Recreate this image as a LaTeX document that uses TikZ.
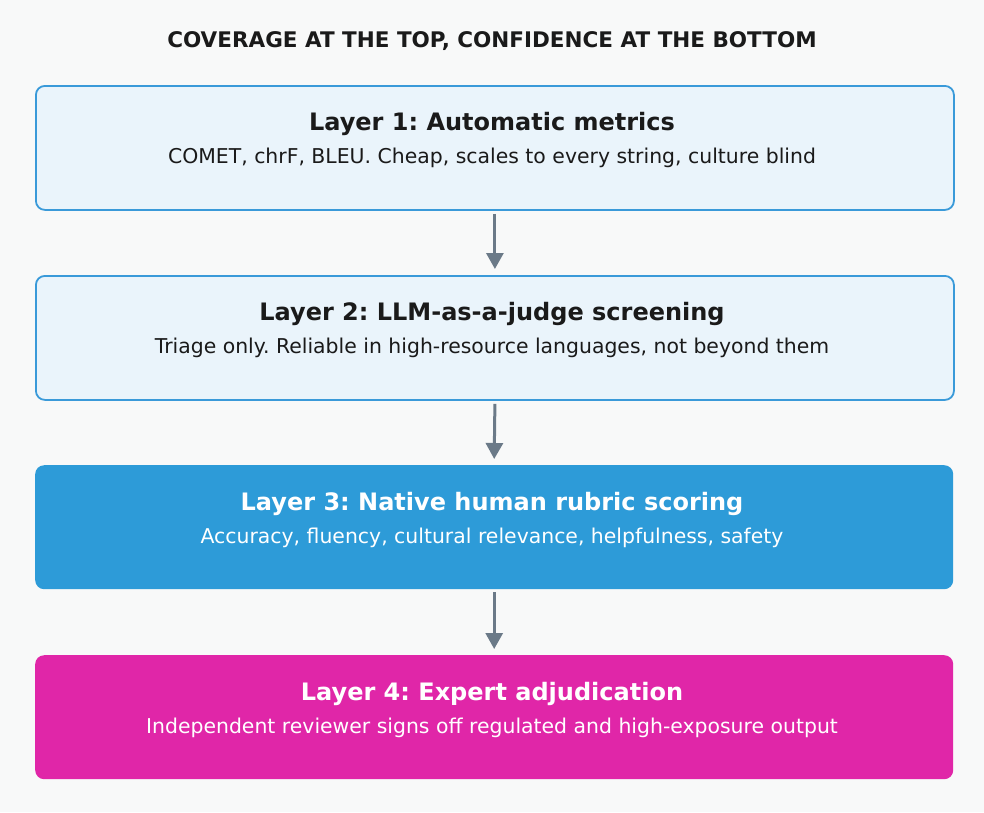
\documentclass[tikz,border=0pt]{standalone}
\usepackage{fontspec}
\setmainfont{DejaVu Sans}
\usetikzlibrary{arrows.meta}
\definecolor{bg}{HTML}{F8F9F9}
\definecolor{lightf}{HTML}{EAF4FB}
\definecolor{blueb}{HTML}{3A9AD9}
\definecolor{bluef}{HTML}{2D9BD8}
\definecolor{pinkf}{HTML}{E026A8}
\definecolor{arr}{HTML}{6B7A88}
\definecolor{txt}{HTML}{1A1A1A}
\frenchspacing
\begin{document}
\begin{tikzpicture}[x=1pt,y=-1pt,
  box/.style={rounded corners=9pt,minimum width=918pt,minimum height=124pt,anchor=north west,inner sep=0pt},
  lbox/.style={box,fill=lightf,draw=blueb,line width=1.8pt},
  ttl/.style={font=\bfseries\fontsize{24}{28}\selectfont},
  sub/.style={font=\fontsize{20.4}{24}\selectfont},
  conn/.style={draw=arr,line width=3pt,-{Triangle[length=16pt,width=17pt]}}]
\fill[bg] (0,0) rectangle (984,812);
\node[font=\bfseries\fontsize{21.5}{24}\selectfont,text=txt] (t) at (492,41) {COVERAGE AT THE TOP, CONFIDENCE AT THE BOTTOM};
\node[lbox] (b1) at (35,85) {};
\node[lbox] (b2) at (35,275) {};
\node[box,fill=bluef] (b3) at (35,465) {};
\node[box,fill=pinkf] (b4) at (35,655) {};
\node[ttl,text=txt] at (492,124) {Layer 1: Automatic metrics};
\node[sub,text=txt] at (492,158) {COMET, chrF, BLEU. Cheap, scales to every string, culture blind};
\node[ttl,text=txt] at (492,314) {Layer 2: LLM-as-a-judge screening};
\node[sub,text=txt] at (492,348) {Triage only. Reliable in high-resource languages, not beyond them};
\node[ttl,text=white] at (492,504) {Layer 3: Native human rubric scoring};
\node[sub,text=white] at (492,538) {Accuracy, fluency, cultural relevance, helpfulness, safety};
\node[ttl,text=white] at (492,694) {Layer 4: Expert adjudication};
\node[sub,text=white] at (492,728) {Independent reviewer signs off regulated and high-exposure output};
\draw[conn] ([yshift=-3pt]b1.south) -- ([yshift=6pt]b2.north);
\draw[conn] ([yshift=-3pt]b2.south) -- ([yshift=6pt]b3.north);
\draw[conn] ([yshift=-3pt]b3.south) -- ([yshift=6pt]b4.north);
\end{tikzpicture}
\end{document}
